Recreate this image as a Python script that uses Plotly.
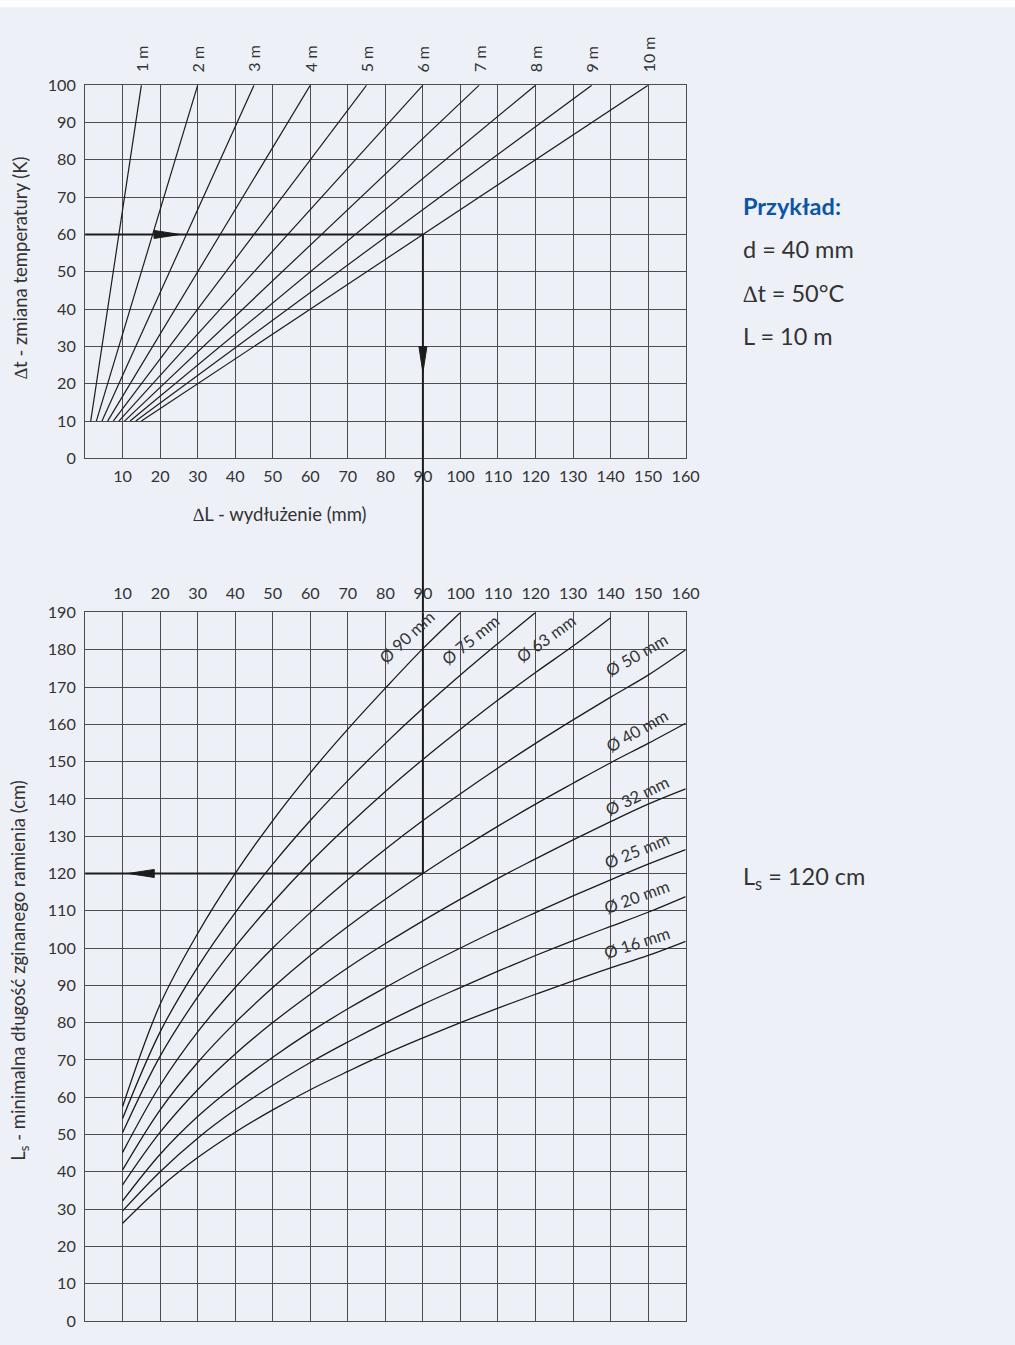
import plotly.graph_objects as go

# --- top chart: elongation dL (mm) vs temperature change dt (K) for pipe lengths L
pipe_len_m = [1, 2, 3, 4, 5, 6, 7, 8, 9, 10]
dt_start_k = 10
dt_end_k = 100
dl_at_start = [1.5, 3.0, 4.5, 6.0, 7.5, 9.0, 10.5, 12.0, 13.5, 15.0]
dl_at_end = [15, 30, 45, 60, 75, 90, 105, 120, 135, 150]

# --- bottom chart: minimal bending arm Ls (cm) vs elongation dL (mm) per pipe diameter
diameters_mm = [16, 20, 25, 32, 40, 50, 63, 75, 90]
dl_grid = [10, 20, 30, 40, 50, 60, 70, 80, 90, 100, 110, 120, 130, 140, 150, 160]
ls_16 = [26.2, 35.8, 43.8, 50.6, 56.6, 62.0, 66.9, 71.6, 75.9, 80.0, 83.9, 87.6, 91.2, 94.7, 98.0, 101.8]
ls_20 = [29.5, 40.0, 49.0, 56.6, 63.2, 69.3, 74.8, 80.0, 84.9, 89.4, 93.8, 98.0, 102.0, 105.8, 109.6, 113.8]
ls_25 = [32.2, 44.7, 54.8, 63.2, 70.7, 77.5, 83.7, 89.4, 94.9, 100.0, 104.9, 109.5, 114.0, 118.3, 122.5, 126.4]
ls_32 = [36.5, 50.6, 62.0, 71.6, 80.0, 87.6, 94.7, 101.2, 107.3, 113.1, 118.7, 123.9, 129.0, 133.9, 138.6, 142.7]
ls_40 = [40.5, 56.6, 69.3, 80.0, 89.4, 98.0, 105.8, 113.1, 120.0, 126.5, 132.7, 138.6, 144.2, 149.7, 154.9, 160.3]
ls_50 = [45.2, 63.2, 77.5, 89.4, 100.0, 109.5, 118.3, 126.5, 134.2, 141.4, 148.3, 154.9, 161.2, 167.3, 173.2, 180.0]
ls_63 = [50.5, 71.0, 86.9, 100.4, 112.2, 123.0, 132.8, 142.0, 150.6, 158.7, 166.5, 173.9, 181.0, 188.6]
ls_75 = [54.3, 77.5, 94.9, 109.5, 122.5, 134.2, 144.9, 154.9, 164.3, 173.2, 181.7, 190.0]
ls_90 = [57.5, 84.9, 103.9, 120.0, 134.2, 147.0, 158.7, 169.7, 180.3, 190.0]
ls_series = [ls_16, ls_20, ls_25, ls_32, ls_40, ls_50, ls_63, ls_75, ls_90]

# curve labels: position (dL, Ls) and angle
label_dl = [147, 147, 147, 147, 147, 147, 122.7, 102.7, 85.8]
label_ls = [101.3, 113.6, 126.1, 140.9, 158.3, 178.5, 183.0, 182.5, 183.4]
label_angle = [-18, -20, -22, -26, -30, -30, -36, -39, -43]

# worked example
ex_dt = 60
ex_dl = 90
ex_ls = 120
example_lines = ["d = 40 mm", "\u2206t = 50°C", "L = 10 m"]

# page geometry: the photo is shrunk to 1015 px wide from a slightly wider page
SCALE = 1015 / 1030
W = 1030
GAP = 10                      # page space above the figure
H = round(1345 / SCALE) - GAP
BG = "#EDF0F7"
GRID = "#4d4d4d"
INK = "#1c1c1c"
TXT = "#333333"
FONT = "Lato"


def px(p):
    """photo pixel column -> paper x"""
    return (p / SCALE) / W


def py(p):
    """photo pixel row -> paper y"""
    return 1 - (p / SCALE - GAP) / H


top_dom = [py(458), py(85)]
bot_dom = [py(1320), py(612)]
x_dom = [px(85), px(685)]

fig = go.Figure()

for L, a, b in zip(pipe_len_m, dl_at_start, dl_at_end):
    fig.add_trace(go.Scatter(x=[a, b], y=[dt_start_k, dt_end_k], mode="lines",
                             line=dict(color=INK, width=1.2), xaxis="x", yaxis="y",
                             hoverinfo="skip", showlegend=False))

for d, ls in zip(diameters_mm, ls_series):
    fig.add_trace(go.Scatter(x=dl_grid[:len(ls)], y=ls, mode="lines",
                             line=dict(color=INK, width=1.3, shape="spline", smoothing=1.0),
                             xaxis="x2", yaxis="y2", hoverinfo="skip", showlegend=False,
                             name=f"Ø {d} mm"))

axis_common = dict(showgrid=True, gridcolor=GRID, gridwidth=1, showline=True, linecolor=GRID,
                   linewidth=1, mirror=True, zeroline=False, ticks="",
                   tickfont=dict(family=FONT, size=16.2, color=TXT), fixedrange=True)

fig.update_layout(
    width=W, height=H,
    margin=dict(l=0, r=0, t=0, b=0),
    paper_bgcolor=BG, plot_bgcolor=BG,
    showlegend=False,
    xaxis=dict(domain=x_dom, range=[0, 160], tickvals=dl_grid, anchor="y",
               ticklabelstandoff=3, **axis_common),
    yaxis=dict(domain=top_dom, range=[0, 100], tickvals=list(range(0, 101, 10)), anchor="x",
               ticklabelstandoff=5, **axis_common),
    xaxis2=dict(domain=x_dom, range=[0, 160], tickvals=dl_grid, anchor="y2", side="top",
                ticklabelstandoff=6, **axis_common),
    yaxis2=dict(domain=bot_dom, range=[0, 190], tickvals=list(range(0, 191, 10)), anchor="x2",
                ticklabelstandoff=5, **axis_common),
)

shapes = [
    # example path
    dict(type="line", xref="x", yref="y", x0=0, x1=ex_dl, y0=ex_dt, y1=ex_dt),
    dict(type="line", xref="x", yref="y", x0=ex_dl, x1=ex_dl, y0=ex_dt, y1=0),
    dict(type="line", xref="x", yref="paper", x0=ex_dl, x1=ex_dl, y0=top_dom[0], y1=bot_dom[1]),
    dict(type="line", xref="x2", yref="y2", x0=ex_dl, x1=ex_dl, y0=190, y1=ex_ls),
    dict(type="line", xref="x2", yref="y2", x0=ex_dl, x1=0, y0=ex_ls, y1=ex_ls),
]
for s in shapes:
    s["line"] = dict(color=INK, width=2)
    s["layer"] = "above"

# arrow heads (pixel-sized triangles anchored at the tip)
heads = [
    ("x", "y", 25.3, ex_dt, "M0,0 L-26,-4 L-26,4 Z"),
    ("x", "y", ex_dl, 23, "M0,0 L-4,26 L4,26 Z"),
    ("x2", "y2", 11.5, ex_ls, "M0,0 L26,-4 L26,4 Z"),
]
for xr, yr, xa, ya, path in heads:
    shapes.append(dict(type="path", xref=xr, yref=yr, xsizemode="pixel", ysizemode="pixel",
                       xanchor=xa, yanchor=ya, path=path, fillcolor=INK,
                       line=dict(color=INK, width=1), layer="above"))

# thin white band along the very top of the page
shapes.append(dict(type="rect", xref="paper", yref="paper", x0=0, x1=1, y0=py(7), y1=py(0),
                   fillcolor="white", line_width=0, layer="below"))
fig.update_layout(shapes=shapes)

ann = []
for L, b in zip(pipe_len_m, dl_at_end):
    ann.append(dict(text=f"{L} m", x=b, y=1, xref="x", yref="y domain", xanchor="center",
                    yanchor="bottom", yshift=11, textangle=-90, showarrow=False,
                    font=dict(family=FONT, size=16, color=TXT)))
for d, x, y, a in zip(diameters_mm, label_dl, label_ls, label_angle):
    ann.append(dict(text=f"Ø {d} mm", x=x, y=y, xref="x2", yref="y2", textangle=a,
                    xanchor="center", yanchor="middle", showarrow=False,
                    font=dict(family=FONT, size=16.5, color=TXT)))

ann.append(dict(text="\u2206t - zmiana temperatury (K)", x=px(20), y=py(268), xref="paper",
                yref="paper", textangle=-90, xanchor="center", yanchor="middle",
                showarrow=False, font=dict(family=FONT, size=18.5, color=TXT)))
ann.append(dict(text="L<sub>s</sub> - minimalna długość zginanego ramienia (cm)", x=px(20),
                y=py(970), xref="paper", yref="paper", textangle=-90, xanchor="center",
                yanchor="middle", showarrow=False, font=dict(family=FONT, size=18.5, color=TXT)))
ann.append(dict(text="\u2206L - wydłużenie (mm)", x=px(280), y=py(514), xref="paper",
                yref="paper", xanchor="center", yanchor="middle", showarrow=False,
                font=dict(family=FONT, size=18.5, color=TXT)))

ann.append(dict(text="<b>Przykład:</b>", x=px(740), y=py(206), xref="paper", yref="paper",
                xanchor="left", yanchor="middle", showarrow=False,
                font=dict(family=FONT, size=23.5, color="#0B56A4")))
for i, t in enumerate(example_lines):
    ann.append(dict(text=t, x=px(740), y=py(249 + 43.5 * i), xref="paper", yref="paper",
                    xanchor="left", yanchor="middle", showarrow=False,
                    font=dict(family=FONT, size=23.5, color=TXT)))
ann.append(dict(text=f"L<sub>s</sub> = {ex_ls} cm", x=px(740), y=py(877), xref="paper",
                yref="paper", xanchor="left", yanchor="middle", showarrow=False,
                font=dict(family=FONT, size=23.5, color=TXT)))
fig.update_layout(annotations=ann)

# no page margin; page background: white strip on top, chart colour below
fig.write_html("out.html", config={"displayModeBar": False},
               post_script="document.body.style.margin='0';"
                           f"document.body.style.background='linear-gradient(#fff 7px, {BG} 7px)';")
